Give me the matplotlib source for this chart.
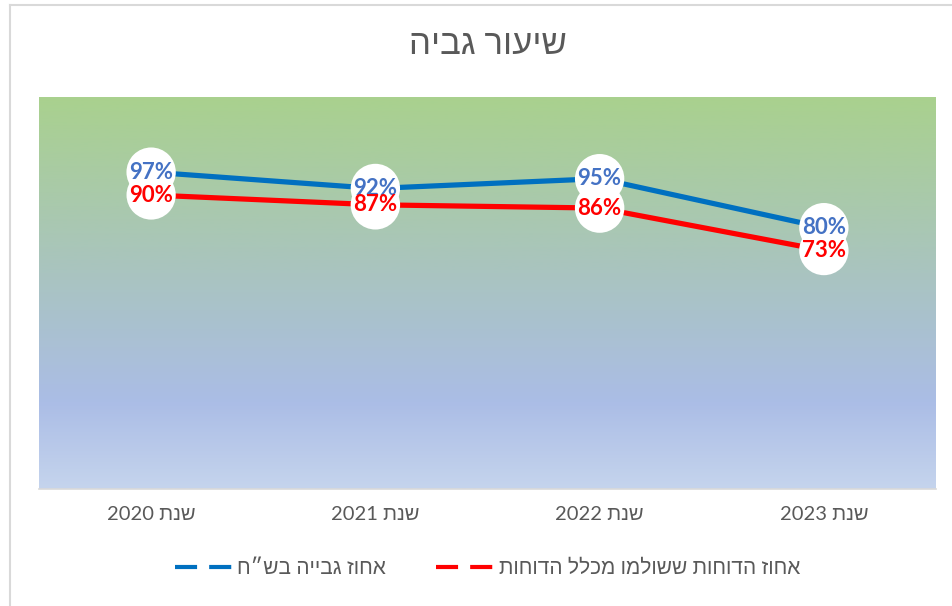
import numpy as np
import matplotlib
matplotlib.use("Agg")
import matplotlib.pyplot as plt
from matplotlib.colors import LinearSegmentedColormap
from matplotlib.lines import Line2D

plt.rcParams['font.family'] = ['Lato', 'Liberation Sans', 'DejaVu Sans']

# data
years = ['2020', '2021', '2022', '2023']
collection_rate = [0.97, 0.92, 0.95, 0.80]
reports_paid = [0.90, 0.87, 0.86, 0.73]

title = 'שיעור גביה'
year_prefix = 'שנת'
name_collection = 'אחוז גבייה בש״ח'
name_paid = 'אחוז הדוחות ששולמו מכלל הדוחות'


def rtl(s):
    # matplotlib has no bidi: flip word order and hebrew words for display
    words = s.split(' ')[::-1]
    out = []
    for w in words:
        if any('\u0590' <= c <= '\u05ff' for c in w):
            out.append(w[::-1])
        else:
            out.append(w)
    return ' '.join(out)


W, H = 952, 606
fig = plt.figure(figsize=(W / 100, H / 100), dpi=100)
fig.patch.set_facecolor('white')

# chart frame (cropped at right / bottom)
fig.add_artist(Line2D([9.5 / W, 9.5 / W], [0, 1 - 5 / H], color='#D9D9D9', lw=1.5))
fig.add_artist(Line2D([9.5 / W, 1], [1 - 5 / H, 1 - 5 / H], color='#D9D9D9', lw=1.5))

left, right, top, bottom = 39, 936, 97, 489
ax = fig.add_axes([left / W, 1 - bottom / H, (right - left) / W, (bottom - top) / H])

x = np.arange(len(years))

# gradient fill of the plot area (green on top, blue, light blue at bottom)
cmap = LinearSegmentedColormap.from_list(
    'bg', [(0.0, '#A9D18E'), (0.45, '#A9C4C0'), (0.78, '#ABBDE6'), (1.0, '#C5D4ED')])
grad = np.linspace(0, 1, 256).reshape(-1, 1)
ax.imshow(grad, cmap=cmap, aspect='auto', extent=(-0.5, len(years) - 0.5, 0, 1.2),
          origin='upper', zorder=0)
ax.set_xlim(-0.5, len(years) - 0.5)
ax.set_ylim(0, 1.2)

ax.plot(x, collection_rate, color='#0070C0', lw=3.75, zorder=3, solid_capstyle='round')
ax.plot(x, reports_paid, color='#FF0000', lw=3.75, zorder=3, solid_capstyle='round')

# white round backgrounds first, then coloured label text on top
for vals in [collection_rate, reports_paid]:
    for xi, v in zip(x, vals):
        ax.text(xi, v, f'{v:.0%}', ha='center', va='center', fontsize=16,
                fontweight='bold', color='white', zorder=5,
                bbox=dict(boxstyle='circle,pad=0.12', fc='white', ec='none'))
for vals, col in [(collection_rate, '#4472C4'), (reports_paid, '#FF0000')]:
    for xi, v in zip(x, vals):
        ax.text(xi, v, f'{v:.0%}', ha='center', va='center', fontsize=16,
                fontweight='bold', color=col, zorder=6)

ax.set_xticks(x)
ax.set_xticklabels([rtl(f'{year_prefix} {y}') for y in years], fontsize=14.5, color='#595959')
ax.tick_params(axis='x', length=0, pad=12)
ax.set_yticks([])
for s in ['left', 'right', 'top']:
    ax.spines[s].set_visible(False)
ax.spines['bottom'].set_color('#D9D9D9')
ax.spines['bottom'].set_linewidth(1.2)

fig.text((left + right) / 2 / W, 1 - 44 / H, rtl(title), ha='center', va='center',
         fontsize=25, color='#595959')

handles = [
    Line2D([], [], color='#0070C0', lw=3, linestyle=(0, (5.3, 2.9))),
    Line2D([], [], color='#FF0000', lw=3, linestyle=(0, (5.3, 2.9))),
]
fig.legend(handles, [rtl(name_collection), rtl(name_paid)], loc='center',
           bbox_to_anchor=((left + right) / 2 / W, 1 - 568 / H), ncol=2, frameon=False,
           fontsize=15, labelcolor='#595959', handlelength=2.9, handletextpad=0.1,
           columnspacing=2.4)

fig.savefig('out.png', dpi=100)
